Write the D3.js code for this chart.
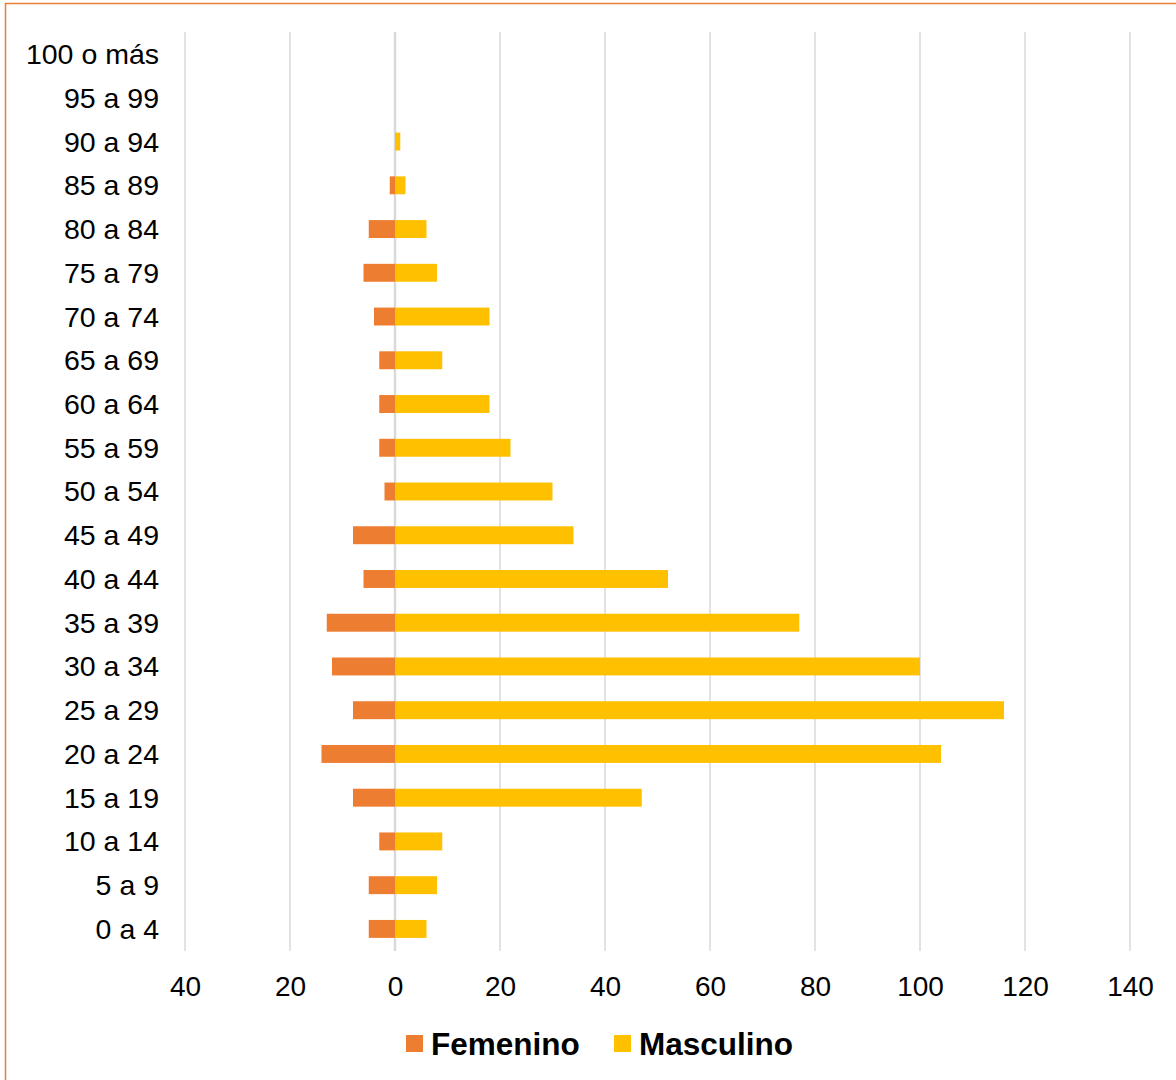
<!DOCTYPE html>
<html>
<head>
<meta charset="utf-8">
<script src="https://cdn.jsdelivr.net/npm/d3@7"></script>
<style>
  body { margin: 0; background: #fff; }
  svg { display: block; font-family: "Liberation Sans", Arial, sans-serif; }
</style>
</head>
<body>
<svg width="1176" height="1080"></svg>
<script>
var svg = d3.select("svg"),
    width = +svg.attr("width"),
    height = +svg.attr("height");

// age groups, top to bottom
var ageGroups = ["100 o más", "95 a 99", "90 a 94", "85 a 89", "80 a 84", "75 a 79",
  "70 a 74", "65 a 69", "60 a 64", "55 a 59", "50 a 54", "45 a 49", "40 a 44",
  "35 a 39", "30 a 34", "25 a 29", "20 a 24", "15 a 19", "10 a 14", "5 a 9", "0 a 4"];

var femenino = [0, 0, 0, 1, 5, 6, 4, 3, 3, 3, 2, 8, 6, 13, 12, 8, 14, 8, 3, 5, 5];
var masculino = [0, 0, 1, 2, 6, 8, 18, 9, 18, 22, 30, 34, 52, 77, 100, 116, 104, 47, 9, 8, 6];

var xTicks = [-40, -20, 0, 20, 40, 60, 80, 100, 120, 140];
var seriesNames = ["Femenino", "Masculino"];
var colors = ["#ED7D31", "#FFC000"];

// frame
svg.append("line").attr("x1", 5).attr("x2", width).attr("y1", 3.5).attr("y2", 3.5)
  .attr("stroke", "#ED7D31").attr("stroke-width", 1.5);
svg.append("line").attr("x1", 5.5).attr("x2", 5.5).attr("y1", 3).attr("y2", height)
  .attr("stroke", "#ED7D31").attr("stroke-width", 1.5);

var x = d3.scaleLinear().domain([-40, 140]).range([185, 1130]);

var y = d3.scaleBand()
  .domain(ageGroups)
  .range([32, 951])
  .paddingInner(0.59)
  .paddingOuter(0.3);

// gridlines
svg.append("g").selectAll("line")
  .data(xTicks)
  .enter().append("line")
    .attr("x1", function(d) { return x(d); })
    .attr("x2", function(d) { return x(d); })
    .attr("y1", 32)
    .attr("y2", 951)
    .attr("stroke", "#d9d9d9")
    .attr("stroke-width", function(d) { return d === 0 ? 2.5 : 1.5; });

// bars
svg.append("g").selectAll("rect")
  .data(femenino)
  .enter().append("rect")
    .attr("x", function(d) { return x(-d); })
    .attr("y", function(d, i) { return y(ageGroups[i]); })
    .attr("width", function(d) { return x(0) - x(-d); })
    .attr("height", y.bandwidth())
    .style("fill", colors[0]);

svg.append("g").selectAll("rect")
  .data(masculino)
  .enter().append("rect")
    .attr("x", x(0))
    .attr("y", function(d, i) { return y(ageGroups[i]); })
    .attr("width", function(d) { return x(d) - x(0); })
    .attr("height", y.bandwidth())
    .style("fill", colors[1]);

// category labels
svg.append("g").selectAll("text")
  .data(ageGroups)
  .enter().append("text")
    .attr("x", 159)
    .attr("y", function(d) { return y(d) + y.bandwidth() / 2; })
    .attr("dy", "0.35em")
    .attr("text-anchor", "end")
    .style("font-size", "28.5px")
    .style("fill", "#000")
    .text(function(d) { return d; });

// x axis labels
var xAxis = d3.axisBottom(x)
  .tickValues(xTicks)
  .tickSize(0)
  .tickPadding(0)
  .tickFormat(function(d) { return Math.abs(d); });

var gx = svg.append("g")
  .attr("transform", "translate(0,996)")
  .call(xAxis);
gx.select(".domain").remove();
gx.selectAll("text")
  .attr("dy", "0")
  .style("font-size", "28px")
  .style("font-family", "'Liberation Sans', Arial, sans-serif")
  .style("fill", "#000");

// legend
var legendX = [406, 614];
var legend = svg.append("g").selectAll("g")
  .data(seriesNames)
  .enter().append("g")
    .attr("transform", function(d, i) { return "translate(" + legendX[i] + ",1035)"; });

legend.append("rect")
  .attr("width", 17)
  .attr("height", 17)
  .style("fill", function(d, i) { return colors[i]; });

legend.append("text")
  .attr("x", 25)
  .attr("y", 9)
  .attr("dy", "0.36em")
  .style("font-size", "31.5px")
  .style("font-weight", "bold")
  .style("fill", "#000")
  .text(function(d) { return d; });
</script>
</body>
</html>
